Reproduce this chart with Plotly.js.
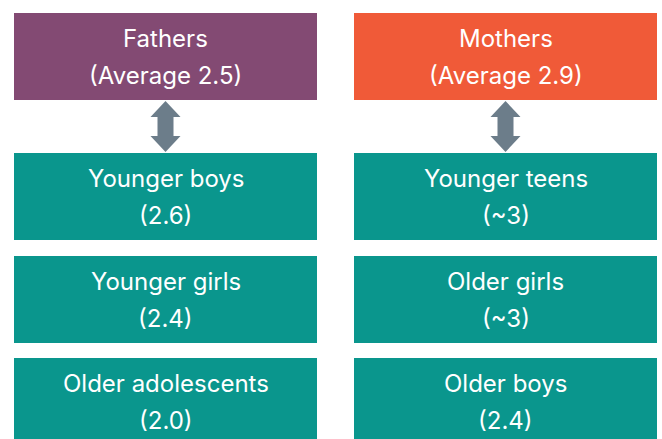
<!DOCTYPE html>
<html><head><meta charset="utf-8">
<script src="https://cdn.plot.ly/plotly-3.0.1.min.js"></script>
<style>html,body{margin:0;padding:0;background:#fff;}#c{width:662px;height:439px;}</style>
</head><body><div id="c"></div>
<script>
// Data
const parents = ['Fathers', 'Mothers'];
const parentAverages = ['2.5', '2.9'];
const fatherGroups = ['Younger boys', 'Younger girls', 'Older adolescents'];
const fatherValues = ['2.6', '2.4', '2.0'];
const motherGroups = ['Younger teens', 'Older girls', 'Older boys'];
const motherValues = ['~3', '~3', '2.4'];

// Layout (styles/positions)
const parentColors = ['#834A73', '#F05A38'];
const childColor = '#0A968D';
const arrowColor = '#6C7D8A';
const colX = [[14, 317], [354, 657]];
const rowY = [[13, 100], [153, 240], [256, 343], [358, 445]];
const boxH = 87;
const lineGap = 18.5;

const shapes = [];
const annotations = [];
const font = {family: 'Inter, Lato, sans-serif', size: 24, color: '#ffffff'};

function box(col, row, color, l1, l2) {
  const [x0, x1] = colX[col];
  const [y0, y1] = rowY[row];
  shapes.push({type: 'rect', xref: 'x', yref: 'y', x0, x1, y0, y1,
    fillcolor: color, line: {width: 0}, layer: 'below'});
  const cx = (x0 + x1) / 2, cy = y0 + boxH / 2;
  [l1, l2].forEach((t, i) => {
    annotations.push({xref: 'x', yref: 'y', x: cx, y: cy + (i === 0 ? -lineGap : lineGap),
      text: t, showarrow: false, font: font, xanchor: 'center', yanchor: 'middle'});
  });
}

parents.forEach((p, i) => box(i, 0, parentColors[i], p, '(Average ' + parentAverages[i] + ')'));
fatherGroups.forEach((g, i) => box(0, i + 1, childColor, g, '(' + fatherValues[i] + ')'));
motherGroups.forEach((g, i) => box(1, i + 1, childColor, g, '(' + motherValues[i] + ')'));

// double arrows
colX.forEach(([x0, x1]) => {
  const cx = (x0 + x1) / 2;
  const top = rowY[0][1] + 1, bot = rowY[1][0] - 1;
  const hw = 15, sw = 8, hh = 16;
  const p = `M ${cx} ${top} L ${cx + hw} ${top + hh} L ${cx + sw} ${top + hh} L ${cx + sw} ${bot - hh} L ${cx + hw} ${bot - hh} L ${cx} ${bot} L ${cx - hw} ${bot - hh} L ${cx - sw} ${bot - hh} L ${cx - sw} ${top + hh} L ${cx - hw} ${top + hh} Z`;
  shapes.push({type: 'path', xref: 'x', yref: 'y', path: p, fillcolor: arrowColor, line: {width: 0}});
});

const layout = {
  width: 662, height: 439,
  margin: {l: 0, r: 0, t: 0, b: 0},
  paper_bgcolor: '#ffffff', plot_bgcolor: '#ffffff',
  xaxis: {range: [0, 662], visible: false, fixedrange: true},
  yaxis: {range: [439, 0], visible: false, fixedrange: true},
  showlegend: false,
  shapes, annotations
};
Plotly.newPlot('c', [{x: [], y: [], type: 'scatter'}], layout, {staticPlot: true, displayModeBar: false});
</script></body></html>
